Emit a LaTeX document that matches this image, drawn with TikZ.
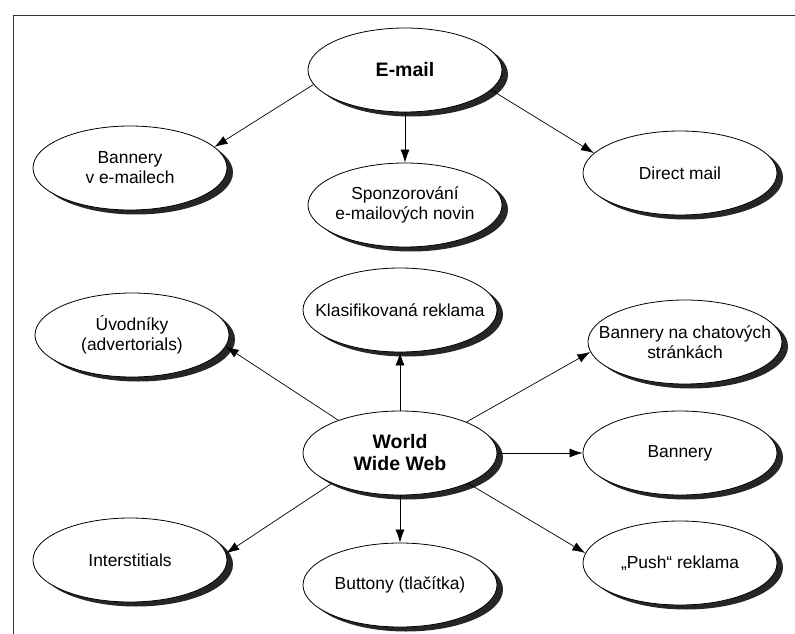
\documentclass[tikz,border=0pt]{standalone}
\usepackage{fontspec}
\setmainfont{Liberation Sans}
\usetikzlibrary{shapes.geometric,shadows,arrows.meta}
\begin{document}
\begin{tikzpicture}[x=1pt,y=-1pt,
  ell/.style={ellipse, draw, fill=white, line width=0.8pt, minimum width=194pt, minimum height=84pt,
    inner xsep=-40pt, inner ysep=-30pt, align=center, font=\fontsize{17.4}{20}\selectfont,
    drop shadow={shadow xshift=6pt, shadow yshift=-4.5pt, fill=black!85, opacity=1}},
  big/.style={ell, font=\fontsize{19.5}{22}\selectfont\bfseries},
  arr/.style={-{Latex[length=13pt,width=9pt]}, line width=0.7pt},
  frame/.style={line width=0.9pt, black!80}]
\useasboundingbox (0,0) rectangle (795,634);
\coordinate (fb) at (13,645);
\coordinate (fc) at (13,15);
\coordinate (fr) at (805,15);
\draw[frame] (fb) -- (fc) -- (fr);

\node[big] (email) at (405,70) {E-mail};
\node[ell] (bve) at (130,168) {Bannery\\v e-mailech};
\node[ell] (spon) at (405,205) {Sponzorování\\e-mailových novin};
\node[ell] (dm) at (680,173) {Direct mail};

\node[ell] (klas) at (400,310) {Klasifikovaná reklama};
\node[ell] (uvod) at (132,335) {Úvodníky\\(advertorials)};
\node[ell] (chat) at (685,342) {Bannery na chatových\\stránkách};
\node[big] (www) at (400,453) {World\\Wide Web};
\node[ell] (ban) at (680,453) {Bannery};
\node[ell] (int) at (130,560) {Interstitials};
\node[ell] (but) at (400,585) {Buttony (tlačítka)};
\node[ell] (push) at (680,563) {„Push“ reklama};

\draw[arr] (email.189) -- (bve.14);
\draw[arr] (email.south) -- (spon.north);
\draw[arr] (email.347) -- (dm.167);

\draw[arr] (www.north) -- (klas.south);
\draw[arr] (www.152) -- (uvod.353);
\draw[arr] (www.25) -- (chat.186);
\draw[arr] (www.east) -- (ban.west);
\draw[arr] (www.336) -- (push.174);
\draw[arr] (www.204) -- (int.4);
\draw[arr] (www.south) -- (but.north);
\end{tikzpicture}
\end{document}
